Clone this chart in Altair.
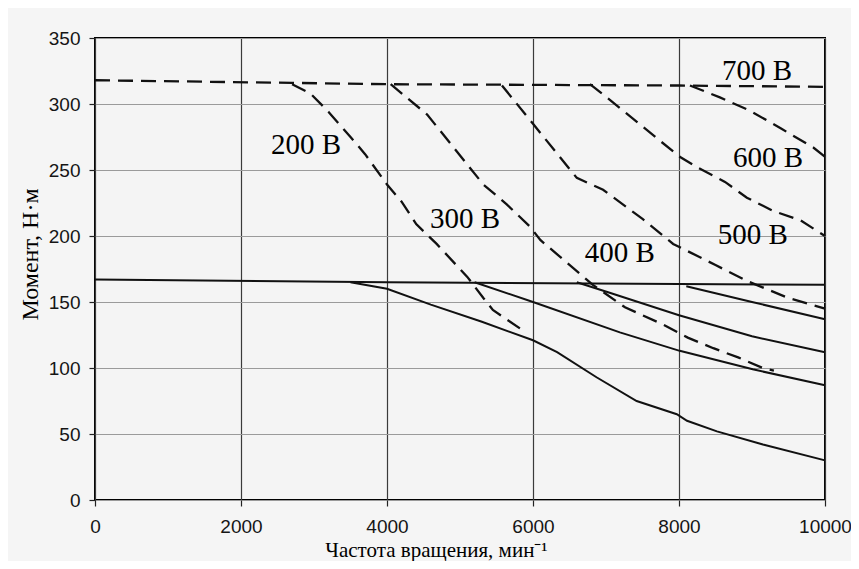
import altair as alt
import pandas as pd

# ---- data ----
# peak torque (dashed), common flat part = 700 V
peak_700_rpm = [0, 2700, 4000, 8000, 10000]
peak_700_tq = [318, 316, 315, 314, 313]
peak_200_rpm = [2700, 2950, 3200, 3500, 3700, 4000, 4200, 4400, 4680, 5100, 5320, 5450, 5900]
peak_200_tq = [315, 308, 294, 275, 262, 239, 226, 209, 194, 169, 153, 144, 127]
peak_300_rpm = [4050, 4550, 5320, 5640, 5960, 6100, 6820, 7260, 7780, 8120, 8470, 8810, 9150, 9300]
peak_300_tq = [315, 292, 239, 224, 207, 197, 163, 146, 133, 123, 115, 108, 100, 98]
peak_400_rpm = [5575, 6000, 6600, 6960, 7500, 7920, 8500, 8930, 9500, 10000]
peak_400_tq = [314, 285, 244, 235, 213, 194, 178, 166, 153, 145]
peak_500_rpm = [6780, 7010, 8010, 8250, 8630, 8930, 9290, 9660, 10000]
peak_500_tq = [315, 305, 260, 252, 241, 229, 219, 212, 200]
peak_600_rpm = [8150, 8560, 8970, 9410, 9840, 10000]
peak_600_tq = [314, 305, 295, 281, 267, 260]

# continuous torque (solid), common flat part
cont_flat_rpm = [0, 4000, 10000]
cont_flat_tq = [167, 165, 163]
cont_200_rpm = [3500, 4000, 4600, 5300, 6000, 6330, 6870, 7420, 7970, 8110, 8520, 9150, 10000]
cont_200_tq = [165, 160, 148, 135, 121, 112, 93, 75, 65, 60, 52, 42, 30]
cont_300_rpm = [5200, 6000, 7190, 8010, 9010, 10000]
cont_300_tq = [165, 150, 127, 113, 99, 87]
cont_400_rpm = [6600, 7050, 8000, 9000, 10000]
cont_400_tq = [165, 157, 140, 124, 112]
cont_500_rpm = [8100, 9000, 10000]
cont_500_tq = [162, 150, 137]

label_text = ["200 В", "300 В", "400 В", "500 В", "600 В", "700 В"]
label_rpm = [2890, 5070, 7190, 9010, 9220, 9070]
label_tq = [262, 206, 180, 194, 252, 318]

x_ticks = [0, 2000, 4000, 6000, 8000, 10000]
y_ticks = [0, 50, 100, 150, 200, 250, 300, 350]

rows = []
def add(kind, name, rpms, tqs):
    for r, t in zip(rpms, tqs):
        rows.append({"rpm": r, "torque": t, "series": name, "kind": kind})

add("dash", "p700", peak_700_rpm, peak_700_tq)
add("dash", "p200", peak_200_rpm, peak_200_tq)
add("dash", "p300", peak_300_rpm, peak_300_tq)
add("dash", "p400", peak_400_rpm, peak_400_tq)
add("dash", "p500", peak_500_rpm, peak_500_tq)
add("dash", "p600", peak_600_rpm, peak_600_tq)
add("solid", "cflat", cont_flat_rpm, cont_flat_tq)
add("solid", "c200", cont_200_rpm, cont_200_tq)
add("solid", "c300", cont_300_rpm, cont_300_tq)
add("solid", "c400", cont_400_rpm, cont_400_tq)
add("solid", "c500", cont_500_rpm, cont_500_tq)
df = pd.DataFrame(rows)

lab = pd.DataFrame({"rpm": label_rpm, "torque": label_tq, "label": label_text})

x = alt.X(
    "rpm:Q",
    scale=alt.Scale(domain=[0, 10000], nice=False, zero=False),
    axis=alt.Axis(
        values=x_ticks, format="d", grid=True, gridColor="#3a3a3a", gridWidth=1.2,
        domain=False, tickColor="#222", tickSize=6, tickWidth=1.2,
        labelFont="Liberation Sans", labelFontSize=19, labelColor="#151515",
        labelPadding=11, labelFlush=False, labelOverlap=False,
        title="Частота вращения, мин⁻¹", titleFont="Liberation Serif",
        titleFontSize=21, titleFontWeight="normal", titleColor="black",
        titleX=341, titleY=56, titleAlign="center", titleBaseline="alphabetic",
    ),
)
y = alt.Y(
    "torque:Q",
    scale=alt.Scale(domain=[0, 350], nice=False),
    axis=alt.Axis(
        values=y_ticks, grid=True, gridColor="#9a9a9a", gridWidth=1,
        domain=False, tickColor="#222", tickSize=6, tickWidth=1.2,
        labelFont="Liberation Sans", labelFontSize=19, labelColor="#151515",
        labelPadding=9, labelOverlap=False,
        title="Момент, Н·м", titleFont="Liberation Serif", titleFontSize=24,
        titleFontWeight="normal", titleColor="black", titleAngle=-90,
        titleX=-58, titleY=216, titleAlign="center", titleBaseline="alphabetic",
    ),
)

base = alt.Chart(df)
solid = base.transform_filter(alt.datum.kind == "solid").mark_line(
    color="#111", strokeWidth=2
).encode(x=x, y=y, detail="series:N")
dashed = base.transform_filter(alt.datum.kind == "dash").mark_line(
    color="#111", strokeWidth=2.3, strokeDash=[15, 8]
).encode(x=x, y=y, detail="series:N")
labels = alt.Chart(lab).mark_text(
    font="Liberation Serif", fontSize=29, align="center", baseline="alphabetic", color="black"
).encode(x=x, y=y, text="label:N")

chart = alt.layer(solid, dashed, labels).properties(
    width=730, height=462,
    autosize=alt.AutoSizeParams(type="none"),
    padding={"left": 87, "top": 30, "right": 26, "bottom": 61},
    background="#f5f5f5",
).configure_view(stroke="black", strokeWidth=2, fill="#f4f4f4")

chart.save("out.html", embed_options={"renderer": "svg", "actions": False})
